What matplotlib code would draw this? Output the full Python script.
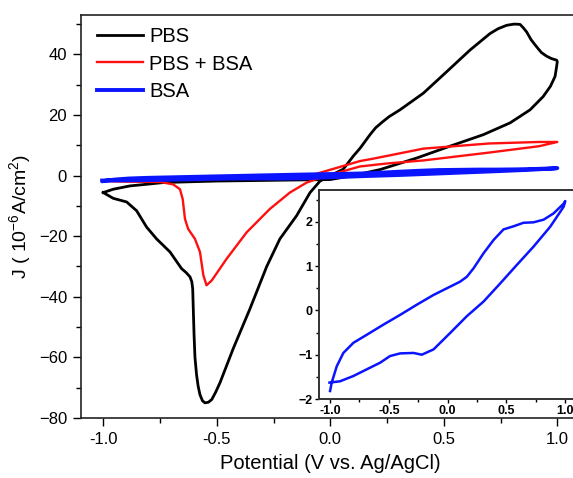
import matplotlib
matplotlib.use("Agg")
import matplotlib.pyplot as plt
from matplotlib.ticker import MultipleLocator

plt.rcParams['font.family'] = ['Liberation Sans', 'DejaVu Sans']
plt.rcParams['mathtext.fontset'] = 'custom'
plt.rcParams['mathtext.rm'] = 'Liberation Sans'
plt.rcParams['mathtext.it'] = 'Liberation Sans:italic'
plt.rcParams['mathtext.bf'] = 'Liberation Sans:bold'

# ---- data ----
pbs_v = [-1.0, -0.956, -0.882, -0.80, -0.736, -0.6, -0.5, -0.3, -0.1, 0.0, 0.1, 0.22,
         0.381, 0.527, 0.674, 0.792, 0.88, 0.938, 0.97, 0.99, 0.995, 1.0,
         0.997, 0.975, 0.953, 0.93, 0.909, 0.885, 0.865, 0.85, 0.836, 0.81, 0.777,
         0.74, 0.704, 0.615, 0.513, 0.41, 0.307,
         0.26, 0.233, 0.2, 0.175, 0.131, 0.101, 0.057, 0.0, -0.045, -0.089, -0.148, -0.222,
         -0.28, -0.354, -0.427, -0.486, -0.505, -0.522, -0.537, -0.552, -0.563, -0.574,
         -0.582, -0.589, -0.596, -0.6, -0.603, -0.606, -0.61,
         -0.618, -0.635, -0.655, -0.706, -0.765, -0.809, -0.853, -0.897, -0.956, -1.0]
pbs_j = [-5.6, -4.5, -3.4, -2.8, -2.3, -2.0, -1.8, -1.6, -1.4, -1.3, 0.0, 2.0,
         5.8, 9.7, 13.5, 17.4, 21.7, 26.1, 29.5, 32.7, 35.0, 37.6,
         38.1, 38.6, 39.4, 40.6, 42.5, 44.8, 47.4, 48.8, 49.9, 50.0, 49.6,
         48.5, 46.9, 41.4, 34.3, 27.2, 21.7,
         19.5, 17.9, 15.8, 13.5, 9.0, 6.4, 2.1, 0.0, -1.8, -5.6, -13.2, -20.9,
         -30.0, -44.0, -57.0, -68.4, -71.5, -73.9, -74.8, -75.0, -74.3, -72.3,
         -69.5, -65.7, -60.0, -52.6, -45.0, -37.3, -35.0,
         -33.4, -32.0, -30.7, -25.2, -20.9, -17.0, -11.6, -8.7, -7.5, -5.6]

pbsbsa_v = [-1.0, -0.8, -0.5, -0.3, -0.07, 0.131, 0.19, 0.41, 0.7, 0.92, 1.0,
            0.92, 0.7, 0.41, 0.25, 0.13, 0.05, -0.016, -0.104, -0.178, -0.266,
            -0.368, -0.456, -0.522, -0.545, -0.559, -0.574, -0.596, -0.626, -0.64,
            -0.65, -0.662, -0.692, -0.75, -0.9, -1.0]
pbsbsa_j = [-1.6, -1.0, -0.5, -0.2, 0.4, 4.8, 5.6, 8.9, 10.6, 11.1, 11.1,
            9.7, 7.6, 5.0, 4.0, 3.0, 1.3, 0.0, -2.3, -5.6, -11.0,
            -18.7, -27.4, -34.6, -36.2, -32.9, -25.2, -20.9, -17.6, -14.3,
            -7.8, -4.5, -2.9, -2.1, -2.0, -1.8]

bsa_v = [-1.0, -0.986, -0.943, -0.887, -0.801, -0.688, -0.546, -0.404, -0.262, -0.12,
         -0.007, 0.106, 0.163, 0.22, 0.305, 0.39, 0.475, 0.56, 0.645, 0.73, 0.816,
         0.9, 0.986, 1.0,
         0.986, 0.872, 0.73, 0.589, 0.447, 0.305, 0.163, 0.021, -0.12, -0.22, -0.29,
         -0.404, -0.49, -0.574, -0.688, -0.801, -0.915, -1.005]
bsa_j = [-1.82, -1.63, -1.26, -0.96, -0.73, -0.55, -0.32, -0.10, 0.13, 0.35,
         0.50, 0.65, 0.76, 0.95, 1.29, 1.59, 1.83, 1.90, 1.98, 1.99, 2.05,
         2.19, 2.41, 2.47,
         2.34, 1.89, 1.44, 1.03, 0.61, 0.20, -0.13, -0.51, -0.88, -1.0, -0.96,
         -0.97, -1.03, -1.18, -1.33, -1.48, -1.60, -1.63]

labels = ["PBS", "PBS + BSA", "BSA"]
main_xticks = [-1.0, -0.5, 0.0, 0.5, 1.0]
main_yticks = [-80, -60, -40, -20, 0, 20, 40]
inset_xticks = [-1.0, -0.5, 0.0, 0.5, 1.0]
inset_yticks = [-2, -1, 0, 1, 2]

W, H = 573, 478
fig = plt.figure(figsize=(W / 100, H / 100), dpi=100)

def px_rect(l, t, r, b):
    return [l / W, 1 - b / H, (r - l) / W, (b - t) / H]

ax = fig.add_axes(px_rect(81, 15, 580, 418))
ax.plot(pbs_v, pbs_j, color='black', lw=2.0, label=labels[0], zorder=2,
        solid_joinstyle='round')
ax.plot(pbsbsa_v, pbsbsa_j, color='#ff1010', lw=1.7, label=labels[1], zorder=3,
        solid_joinstyle='round')
ax.plot(bsa_v, bsa_j, color='#0a14ff', lw=2.8, label=labels[2], zorder=4,
        solid_joinstyle='round')
ax.set_xlim(-1.098, 1.1)
ax.set_ylim(-80, 53)
ax.set_xticks(main_xticks)
ax.set_xticklabels([f"{v:.1f}" for v in main_xticks])
ax.set_yticks(main_yticks)
ax.xaxis.set_minor_locator(MultipleLocator(0.25))
ax.yaxis.set_minor_locator(MultipleLocator(10))
ax.tick_params(which='major', direction='out', length=6, width=1.0, labelsize=12, pad=4)
ax.tick_params(which='minor', direction='out', length=3.5, width=1.0)
for s in ax.spines.values():
    s.set_linewidth(1.2)
    s.set_color('#222222')
ax.set_xlabel("Potential (V vs. Ag/AgCl)", fontsize=14.5, labelpad=5)
ax.set_ylabel(r"J ( 10$^{-6}$A/cm$^{2}$)", fontsize=14, labelpad=4)
leg = ax.legend(loc='upper left', bbox_to_anchor=(0.032, 0.97), frameon=False,
                fontsize=14.5, handlelength=2.3, handletextpad=0.3,
                labelspacing=0.42, borderaxespad=0, borderpad=0)

ins = fig.add_axes(px_rect(319, 190, 577, 399))
ins.plot(bsa_v, bsa_j, color='#0a14ff', lw=1.8, solid_joinstyle='round')
ins.set_xlim(-1.094, 1.1)
ins.set_ylim(-2, 2.72)
ins.set_xticks(inset_xticks)
ins.set_xticklabels([f"{v:.1f}" for v in inset_xticks])
ins.set_yticks(inset_yticks)
ins.xaxis.set_minor_locator(MultipleLocator(0.25))
ins.yaxis.set_minor_locator(MultipleLocator(0.5))
ins.tick_params(which='major', direction='out', length=3, width=1.0, labelsize=9, pad=1.5)
ins.tick_params(which='minor', direction='out', length=2, width=1.0)
for lab in ins.get_xticklabels() + ins.get_yticklabels():
    lab.set_fontweight('bold')
for s in ins.spines.values():
    s.set_linewidth(1.4)
    s.set_color('#333333')

fig.savefig("out.png", dpi=100)
